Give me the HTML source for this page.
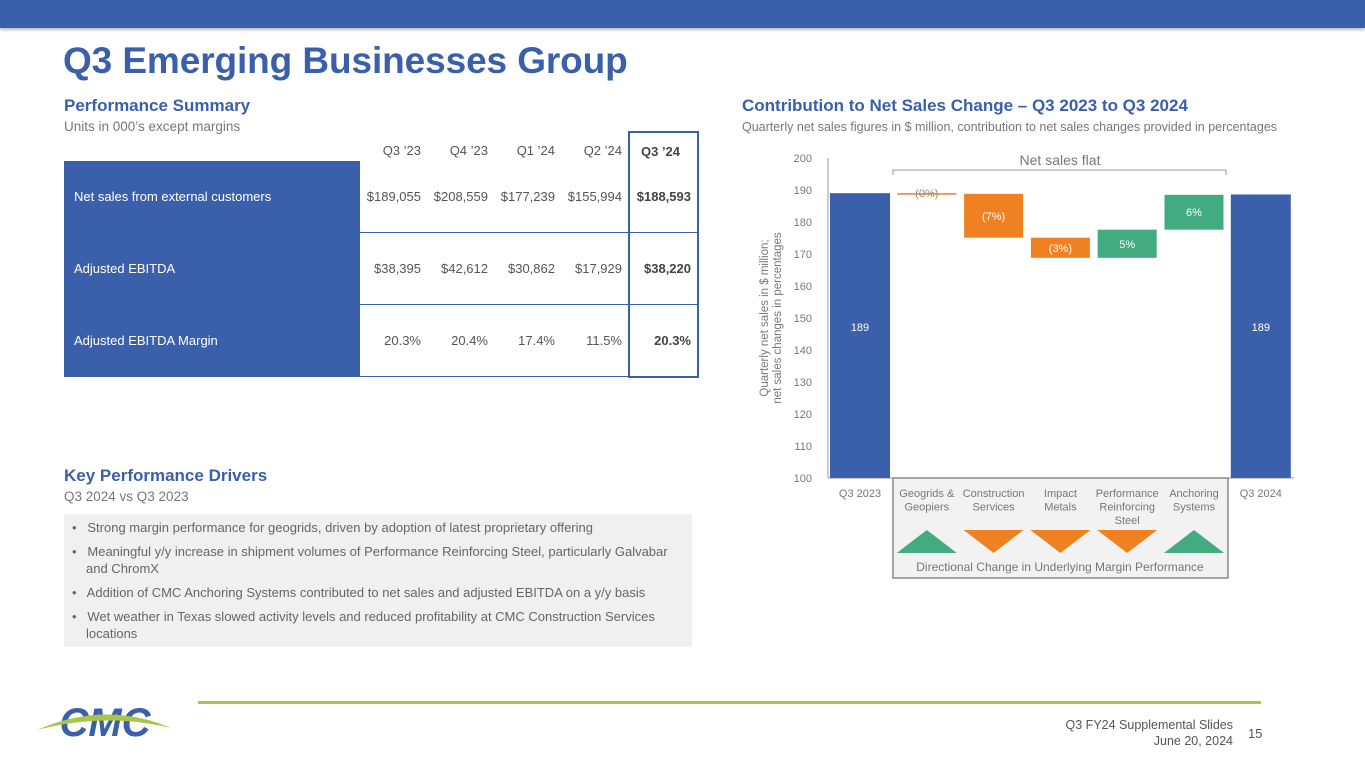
<!DOCTYPE html>
<html><head><meta charset="utf-8">
<style>
body{margin:0;width:1365px;height:768px;overflow:hidden;background:#fff;font-family:"Liberation Sans",sans-serif;position:relative}
.abs{position:absolute}
.topbar{left:0;top:0;width:1365px;height:28px;background:#3a5fab;box-shadow:0 2px 3px #bbb}
h1{position:absolute;left:63px;top:40px;margin:0;font-size:37px;color:#3a5fab;font-weight:bold;letter-spacing:-0.1px}
.sec{font-size:17px;font-weight:bold;color:#3a5fab}
.sub{font-size:13.5px;color:#777}
table{border-collapse:collapse;font-size:13px;color:#555}
td{padding:0}
.lab{background:#3a5fab;color:#fff;padding-left:10px;width:286px;height:71px;border-bottom:1px solid #fff}
.v{text-align:right;padding-right:6px;width:61px}
.r1 td{border-bottom:1px solid #3a5fab}
.hl{font-weight:bold;color:#444}
.drivers{left:64px;top:514px;width:628px;height:133px;background:#f0f0f0;font-size:13px;color:#666;line-height:17px}
.drivers ul{margin:0;padding:5px 10px 0 8px;list-style:none}
.drivers li{padding-left:14px;text-indent:-14px;margin-bottom:7px}
</style></head><body>
<div class="abs topbar"></div>
<h1>Q3 Emerging Businesses Group</h1>
<div class="abs sec" style="left:64px;top:96px">Performance Summary</div>
<div class="abs sub" style="left:64px;top:119px">Units in 000’s except margins</div>
<div class="abs" style="left:64px;top:131px">
<table>
<tr style="height:29px"><td style="width:296px"></td><td class="v" style="padding-top:8px">Q3 ’23</td><td class="v" style="padding-top:8px">Q4 ’23</td><td class="v" style="padding-top:8px">Q1 ’24</td><td class="v" style="padding-top:8px">Q2 ’24</td><td class="v hl" style="padding-top:8px;border:2px solid #3a5fab;border-bottom:none;text-align:center">Q3 ’24</td></tr>
<tr class="r1"><td class="lab">Net sales from external customers</td><td class="v">$189,055</td><td class="v">$208,559</td><td class="v">$177,239</td><td class="v">$155,994</td><td class="v hl" style="border-left:2px solid #3a5fab;border-right:2px solid #3a5fab">$188,593</td></tr>
<tr class="r1"><td class="lab">Adjusted EBITDA</td><td class="v">$38,395</td><td class="v">$42,612</td><td class="v">$30,862</td><td class="v">$17,929</td><td class="v hl" style="border-left:2px solid #3a5fab;border-right:2px solid #3a5fab">$38,220</td></tr>
<tr class="r1"><td class="lab">Adjusted EBITDA Margin</td><td class="v">20.3%</td><td class="v">20.4%</td><td class="v">17.4%</td><td class="v">11.5%</td><td class="v hl" style="border-left:2px solid #3a5fab;border-right:2px solid #3a5fab;border-bottom:2px solid #3a5fab">20.3%</td></tr>
</table></div>
<div class="abs sec" style="left:64px;top:466px">Key Performance Drivers</div>
<div class="abs sub" style="left:64px;top:489px">Q3 2024 vs Q3 2023</div>
<div class="abs drivers"><ul>
<li>•&nbsp;&nbsp; Strong margin performance for geogrids, driven by adoption of latest proprietary offering</li>
<li>•&nbsp;&nbsp; Meaningful y/y increase in shipment volumes of Performance Reinforcing Steel, particularly Galvabar and ChromX</li>
<li>•&nbsp;&nbsp; Addition of CMC Anchoring Systems contributed to net sales and adjusted EBITDA on a y/y basis</li>
<li>•&nbsp;&nbsp; Wet weather in Texas slowed activity levels and reduced profitability at CMC Construction Services locations</li>
</ul></div>
<div class="abs sec" style="left:742px;top:96px">Contribution to Net Sales Change – Q3 2023 to Q3 2024</div>
<div class="abs sub" style="left:742px;top:120px;font-size:12.5px">Quarterly net sales figures in $ million, contribution to net sales changes provided in percentages</div>
<svg class="abs" style="left:0;top:0" width="1365" height="768" id="chart"></svg>
<div class="abs" style="left:198px;top:701px;width:1063px;height:3px;background:#a9c64a"></div>
<svg class="abs" style="left:35px;top:700px" width="140" height="42">
<text x="70" y="36" text-anchor="middle" font-family="Liberation Sans" font-weight="bold" font-style="italic" font-size="40" fill="#3a5fab">CMC</text>
<path d="M2,30 Q70,0 136,28 Q70,12 2,30Z" fill="#a9c64a"/>
</svg>
<div class="abs" style="right:132px;top:717px;text-align:right;font-size:12.5px;color:#555;line-height:16px">Q3 FY24 Supplemental Slides<br>June 20, 2024</div>
<div class="abs" style="left:1248px;top:726px;font-size:13px;color:#555">15</div>
<script>
const categories=["Q3 2023","Geogrids & Geopiers","Construction Services","Impact Metals","Performance Reinforcing Steel","Anchoring Systems","Q3 2024"];
const startValue=189;
const deltas=[-0.2,-13.7,-6.3,8.8,10.9];
const endValue=188.6;
const deltaLabels=["(0%)","(7%)","(3%)","5%","6%"];
const totalLabels=["189","189"];
const yTicks=[100,110,120,130,140,150,160,170,180,190,200];
const marginDir=["up","down","down","down","up"];
const NS="http://www.w3.org/2000/svg";
const svg=document.getElementById('chart');
const y=v=>478-(v-100)*3.2;
const cx=i=>860+i*66.8;
const bw=59;
function mk(t,a,txt){const e=document.createElementNS(NS,t);for(const k in a)e.setAttribute(k,a[k]);if(txt!==undefined)e.textContent=txt;svg.appendChild(e);return e;}
let ax=mk('line',{x1:828,y1:158,x2:828,y2:478,stroke:'#999'});

let bx=mk('line',{x1:828,y1:478,x2:1294,y2:478,stroke:'#999'});

yTicks.forEach(t=>{const e=mk('text',{x:812,y:y(t)+4,'text-anchor':'end','font-size':11,fill:'#777'},t);
});
let yt=mk('text',{transform:'translate(770,318) rotate(-90)','text-anchor':'middle','font-size':11.5,fill:'#777'});

yt.innerHTML='<tspan x="0" dy="-2">Quarterly net sales in $ million;</tspan><tspan x="0" dy="13">net sales changes in percentages</tspan>';
let box=mk('rect',{x:893,y:478,width:335,height:100,fill:'#f2f2f2',stroke:'#888','stroke-width':1.5});

let br=mk('path',{d:'M893,175 V170 H1226 V175',fill:'none',stroke:'#999'});

let bt=mk('text',{x:1060,y:165,'text-anchor':'middle','font-size':14,fill:'#777'},'Net sales flat');

[[0,startValue],[6,endValue]].forEach(([i,v],k)=>{
 const r=mk('rect',{x:cx(i)-30,y:y(v),width:60,height:478-y(v),fill:'#3a5fab'});
 
 const t=mk('text',{x:cx(i),y:y(145)-3,'text-anchor':'middle','font-size':11,fill:'#fff'},totalLabels[k]);
 
});
let cur=startValue;
deltas.forEach((d,i)=>{
 const a=cur,b=cur+d;cur=b;
 const top=y(Math.max(a,b)),h=Math.max(Math.abs(y(a)-y(b)),1.5);
 const col=d<0?'#f08122':'#42ab7f';
 const r=mk('rect',{x:cx(i+1)-bw/2,y:top,width:bw,height:h,fill:col});
 
 const ty=h<5?top+4:top+h/2+4;
 const t=mk('text',{x:cx(i+1),y:ty,'text-anchor':'middle','font-size':11,fill:h<5?'#888':'#fff'},deltaLabels[i]);
 
});
categories.forEach((c,i)=>{
 const words={"Geogrids & Geopiers":["Geogrids &","Geopiers"],"Construction Services":["Construction","Services"],"Impact Metals":["Impact","Metals"],"Performance Reinforcing Steel":["Performance","Reinforcing","Steel"],"Anchoring Systems":["Anchoring","Systems"]}[c]||[c];
 words.forEach((w,j)=>{const t=mk('text',{x:cx(i),y:497+j*13.5,'text-anchor':'middle','font-size':11,fill:'#777'},w);
 });
});
marginDir.forEach((d,i)=>{
 const x=cx(i+1);
 const p=d==='up'?`M${x-30},553 L${x},530 L${x+30},553Z`:`M${x-30},530 L${x+30},530 L${x},553Z`;
 const e=mk('path',{d:p,fill:d==='up'?'#42ab7f':'#f08122'});
 
});
let mt=mk('text',{x:1060,y:571,'text-anchor':'middle','font-size':12,fill:'#777'},'Directional Change in Underlying Margin Performance');

</script>
</body></html>
